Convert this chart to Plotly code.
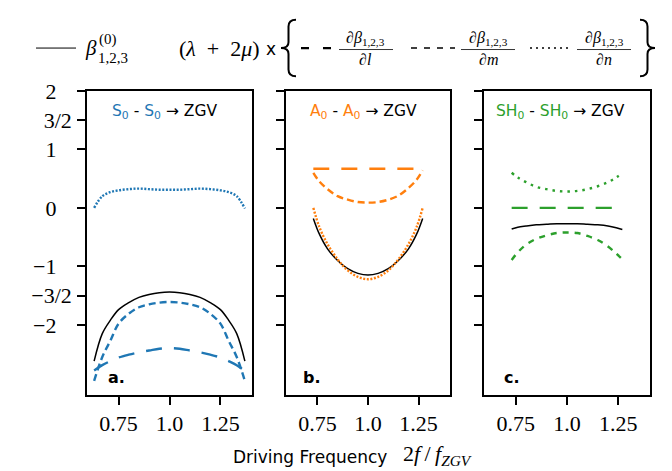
import plotly.graph_objects as go

W, H = 672, 471

# ---------------- data ----------------
x_a = [0.63, 0.67, 0.71, 0.75, 0.80, 0.85, 0.90, 0.95, 1.00, 1.05, 1.10, 1.15, 1.20, 1.25, 1.29, 1.33, 1.37]
a_beta0 = [-2.62, -2.15, -1.92, -1.74, -1.62, -1.53, -1.48, -1.45, -1.44, -1.45, -1.48, -1.53, -1.62, -1.74, -1.92, -2.15, -2.62]
a_dl = [-2.78, -2.69, -2.62, -2.56, -2.51, -2.47, -2.44, -2.41, -2.40, -2.41, -2.44, -2.47, -2.51, -2.56, -2.62, -2.69, -2.79]
a_dm = [-2.96, -2.55, -2.27, -1.98, -1.81, -1.70, -1.65, -1.62, -1.61, -1.62, -1.65, -1.70, -1.81, -1.98, -2.27, -2.55, -2.96]
a_dn = [0.00, 0.20, 0.27, 0.30, 0.32, 0.33, 0.32, 0.31, 0.31, 0.31, 0.32, 0.33, 0.32, 0.30, 0.27, 0.20, -0.01]

x_b = [0.73, 0.76, 0.80, 0.85, 0.90, 0.95, 1.00, 1.05, 1.10, 1.15, 1.20, 1.24, 1.27]
b_beta0 = [-0.18, -0.45, -0.70, -0.90, -1.04, -1.12, -1.15, -1.12, -1.04, -0.90, -0.70, -0.45, -0.18]
b_dl = [0.67, 0.67, 0.67, 0.67, 0.67, 0.67, 0.67, 0.67, 0.67, 0.67, 0.67, 0.67, 0.68]
b_dm = [0.60, 0.45, 0.32, 0.20, 0.14, 0.10, 0.09, 0.10, 0.14, 0.21, 0.34, 0.48, 0.64]
b_dn = [0.00, -0.33, -0.62, -0.88, -1.07, -1.18, -1.22, -1.18, -1.07, -0.88, -0.62, -0.33, 0.00]

x_c = [0.73, 0.76, 0.80, 0.85, 0.90, 0.95, 1.00, 1.05, 1.10, 1.15, 1.20, 1.24, 1.27]
c_beta0 = [-0.36, -0.33, -0.31, -0.29, -0.28, -0.27, -0.27, -0.27, -0.28, -0.29, -0.31, -0.34, -0.37]
c_dl = [0.0] * 13
c_dm = [-0.89, -0.76, -0.63, -0.53, -0.47, -0.43, -0.42, -0.43, -0.48, -0.55, -0.66, -0.78, -0.88]
c_dn = [0.60, 0.52, 0.44, 0.36, 0.32, 0.29, 0.28, 0.29, 0.32, 0.37, 0.44, 0.52, 0.59]

y_tickvals = [2, 1.5, 1, 0, -1, -1.5, -2]
y_ticktext = ["2", "3/2", "1", "0", "\u22121", "\u22123/2", "\u22122"]
x_tickvals = [0.75, 1.0, 1.25]
x_ticktext = ["0.75", "1.0", "1.25"]

BLUE, ORANGE, GREEN = "#1f77b4", "#ff7f0e", "#2ca02c"

def px(x):
    return x / W

def py(y):
    return 1 - y / H

fig = go.Figure()

panels = [
    ("", "", x_a, a_beta0, a_dl, a_dm, a_dn, BLUE, "2px,1.6px", "7px,4px"),
    ("2", "2", x_b, b_beta0, b_dl, b_dm, b_dn, ORANGE, "2px,1.6px", "7px,4px"),
    ("3", "3", x_c, c_beta0, c_dl, c_dm, c_dn, GREEN, "2.5px,5px", "6px,6px"),
]
for xs, ys, xv, b0, dl, dm, dn, col, dotpat, dashpat in panels:
    xa, ya = "x" + xs, "y" + ys
    fig.add_trace(go.Scatter(x=xv, y=b0, mode="lines", xaxis=xa, yaxis=ya,
                             line=dict(color="black", width=1.5, shape="spline")))
    fig.add_trace(go.Scatter(x=xv, y=dl, mode="lines", xaxis=xa, yaxis=ya,
                             line=dict(color=col, width=2.4, dash="16px,12px", shape="spline")))
    fig.add_trace(go.Scatter(x=xv, y=dm, mode="lines", xaxis=xa, yaxis=ya,
                             line=dict(color=col, width=2.4, dash=dashpat, shape="spline")))
    fig.add_trace(go.Scatter(x=xv, y=dn, mode="lines", xaxis=xa, yaxis=ya,
                             line=dict(color=col, width=2.4, dash=dotpat, shape="spline")))

serif = "Liberation Serif"
sans = "DejaVu Sans"

# integer labels get a trailing pad so they sit left like the reference
pad = "\u2002\u2009"
y_ticktext_drawn = [t if "/" in t else t + pad for t in y_ticktext]

domains = [(87, 252), (286, 450), (484, 650)]
ydom = [py(393), py(81)]
layout_axes = {}
for i, (l, r) in enumerate(domains):
    s = "" if i == 0 else str(i + 1)
    layout_axes["xaxis" + s] = dict(domain=[px(l), px(r)], range=[0.595, 1.405],
                                    anchor="y" + s, tickmode="array",
                                    tickvals=x_tickvals, ticktext=x_ticktext)
    layout_axes["yaxis" + s] = dict(domain=ydom, range=[-3.2, 2], anchor="x" + s,
                                    tickmode="array", tickvals=y_tickvals, ticktext=y_ticktext_drawn,
                                    showticklabels=(i == 0))
fig.update_layout(**layout_axes)

common = dict(showline=True, mirror=True, linecolor="black", linewidth=1.5,
              ticks="outside", ticklen=8, tickwidth=1.5, tickcolor="black",
              showgrid=False, zeroline=False,
              tickfont=dict(family=serif, size=22, color="black"))
fig.update_xaxes(ticklabelstandoff=0, **common)
fig.update_yaxes(ticklabelstandoff=1, **common)

ann = []

# panel titles
titles = [
    (110, f"<span style='color:{BLUE}'>S<sub>0</sub></span> - <span style='color:{BLUE}'>S<sub>0</sub></span> \u2192 ZGV"),
    (308, f"<span style='color:{ORANGE}'>A<sub>0</sub></span> - <span style='color:{ORANGE}'>A<sub>0</sub></span> \u2192 ZGV"),
    (494, f"<span style='color:{GREEN}'>SH<sub>0</sub></span> - <span style='color:{GREEN}'>SH<sub>0</sub></span> \u2192 ZGV"),
]
for x0, t in titles:
    ann.append(dict(x=px(x0), y=py(103), xref="paper", yref="paper", text=t, showarrow=False,
                    xanchor="left", yanchor="middle", font=dict(family=sans, size=15.5, color="black")))
for x0, t in [(106, "a."), (301, "b."), (502, "c.")]:
    ann.append(dict(x=px(x0), y=py(375), xref="paper", yref="paper", text=f"<b>{t}</b>", showarrow=False,
                    xanchor="left", yanchor="middle", font=dict(family=sans, size=16, color="black")))

# x axis title
ann.append(dict(x=px(231), y=py(457), xref="paper", yref="paper", text="Driving Frequency",
                showarrow=False, xanchor="left", yanchor="middle",
                font=dict(family=sans, size=17, color="black")))
ann.append(dict(x=px(401), y=py(455), xref="paper", yref="paper",
                text="2<i>f</i>\u2009/\u2009<i>f</i><sub><i>ZGV</i></sub>",
                showarrow=False, xanchor="left", yanchor="middle",
                font=dict(family=serif, size=22, color="black")))

# top legend
shapes = []
LY = 37
shapes.append(dict(type="line", xref="paper", yref="paper", x0=px(36), x1=px(76), y0=py(LY), y1=py(LY),
                   line=dict(color="black", width=1)))
ann.append(dict(x=px(83), y=py(LY), xref="paper", yref="paper", text="<i>\u03b2</i>", showarrow=False,
                xanchor="left", yanchor="middle", font=dict(family=serif, size=21, color="black")))
ann.append(dict(x=px(97), y=py(28), xref="paper", yref="paper", text="(0)", showarrow=False,
                xanchor="left", yanchor="middle", font=dict(family=serif, size=15, color="black")))
ann.append(dict(x=px(96), y=py(47), xref="paper", yref="paper", text="1,2,3", showarrow=False,
                xanchor="left", yanchor="middle", font=dict(family=serif, size=15, color="black")))
ann.append(dict(x=px(177), y=py(LY), xref="paper", yref="paper",
                text="(<i>\u03bb</i>\u2002+\u20022<i>\u03bc</i>)", showarrow=False,
                xanchor="left", yanchor="middle", font=dict(family=serif, size=22, color="black")))
ann.append(dict(x=px(264), y=py(LY + 1), xref="paper", yref="paper", text="x", showarrow=False,
                xanchor="left", yanchor="middle", font=dict(family=sans, size=17, color="black")))


def brace_path(xs, tip, y0, y1, stem):
    ym = (y0 + y1) / 2
    pts = [
        f"M {px(xs)},{py(y0)}",
        f"Q {px(stem)},{py(y0)} {px(stem)},{py(y0 + 7)}",
        f"L {px(stem)},{py(ym - 6)}",
        f"Q {px(stem)},{py(ym)} {px(tip)},{py(ym)}",
        f"Q {px(stem)},{py(ym)} {px(stem)},{py(ym + 6)}",
        f"L {px(stem)},{py(y1 - 7)}",
        f"Q {px(stem)},{py(y1)} {px(xs)},{py(y1)}",
    ]
    return " ".join(pts)

shapes.append(dict(type="path", xref="paper", yref="paper", path=brace_path(296, 281, 8, 66, 288.5),
                   line=dict(color="black", width=2)))
shapes.append(dict(type="path", xref="paper", yref="paper", path=brace_path(640, 655, 8, 66, 647.5),
                   line=dict(color="black", width=2)))

samples = [(301, 331, "8px,14px", 2.2), (411, 455, "6px,7px", 1.6), (530, 568, "2px,4px", 1.6)]
for x0, x1, d, w in samples:
    shapes.append(dict(type="line", xref="paper", yref="paper", x0=px(x0), x1=px(x1), y0=py(LY), y1=py(LY),
                       line=dict(color="black", width=w, dash=d)))

fracs = [(366, "l"), (488, "m"), (604, "n")]
for xc, v in fracs:
    ann.append(dict(x=px(xc), y=py(27), xref="paper", yref="paper",
                    text="\u2202<i>\u03b2</i><sub>1,2,3</sub>", showarrow=False,
                    xanchor="center", yanchor="middle", font=dict(family=serif, size=16, color="black")))
    ann.append(dict(x=px(xc), y=py(49), xref="paper", yref="paper",
                    text=f"\u2202<i>{v}</i>", showarrow=False,
                    xanchor="center", yanchor="middle", font=dict(family=serif, size=16, color="black")))
    shapes.append(dict(type="line", xref="paper", yref="paper", x0=px(xc - 27), x1=px(xc + 27),
                       y0=py(38.5), y1=py(38.5), line=dict(color="black", width=0.8)))

fig.update_layout(width=W, height=H, margin=dict(l=0, r=0, t=0, b=0),
                  paper_bgcolor="white", plot_bgcolor="white", showlegend=False,
                  annotations=ann, shapes=shapes, font=dict(family=sans, color="black"))

fig.write_html("out.html")
